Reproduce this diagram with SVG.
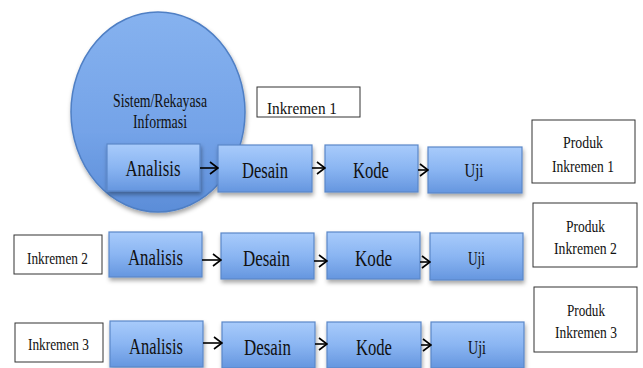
<svg xmlns="http://www.w3.org/2000/svg" width="643" height="368" viewBox="0 0 643 368">
  <defs>
    <linearGradient id="boxFill" x1="0" y1="0" x2="0" y2="1">
      <stop offset="0" stop-color="#a8cbfb"/>
      <stop offset="0.5" stop-color="#8ab5f2"/>
      <stop offset="1" stop-color="#6596df"/>
    </linearGradient>
    <linearGradient id="circleFill" x1="0" y1="0" x2="0" y2="1">
      <stop offset="0" stop-color="#86b2ef"/>
      <stop offset="0.6" stop-color="#74a3e8"/>
      <stop offset="1" stop-color="#5b8dd8"/>
    </linearGradient>
    <filter id="shadow" x="-20%" y="-20%" width="150%" height="160%">
      <feDropShadow dx="1" dy="3" stdDeviation="2" flood-color="#000" flood-opacity="0.35"/>
    </filter>
    <marker id="head" viewBox="0 0 10 14" refX="9" refY="7" markerWidth="10" markerHeight="14" markerUnits="userSpaceOnUse" orient="auto">
      <path d="M1,1 L9,7 L1,13" fill="none" stroke="#000" stroke-width="1.6"/>
    </marker>
  </defs>
  <style>
    .step { fill: url(#boxFill); stroke: #5a87c8; stroke-width: 1.2; filter: url(#shadow); }
    .plain { fill: #fff; stroke: #333; stroke-width: 1; }
    text { font-family: "Liberation Serif", "DejaVu Serif", "Times New Roman", serif; fill: #111; text-anchor: middle; }
    .big { font-size: 24px; }
    .mid { font-size: 19px; }
    .sm { font-size: 17px; }
    .link { stroke: #000; stroke-width: 1.6; fill: none; marker-end: url(#head); }
  </style>

  <rect width="643" height="368" fill="#fff"/>

  <!-- system / information engineering circle -->
  <g id="sistem">
    <ellipse cx="158" cy="112" rx="87" ry="100" fill="url(#circleFill)" stroke="#4f7fc4" stroke-width="1.5" filter="url(#shadow)"/>
    <text class="mid" font-family="Liberation Serif, serif" x="160" y="107" textLength="94" lengthAdjust="spacingAndGlyphs">Sistem/Rekayasa</text>
    <text class="mid" font-family="Liberation Serif, serif" x="160" y="128" textLength="54" lengthAdjust="spacingAndGlyphs">Informasi</text>
  </g>

  <!-- increment labels -->
  <g id="inkremen1">
    <rect class="plain" x="257" y="87" width="103" height="30"/>
    <text class="sm" x="302" y="114" textLength="70" lengthAdjust="spacingAndGlyphs">Inkremen 1</text>
  </g>
  <g id="inkremen2">
    <rect class="plain" x="14" y="235" width="88" height="39"/>
    <text class="sm" x="57.5" y="264" textLength="61" lengthAdjust="spacingAndGlyphs">Inkremen 2</text>
  </g>
  <g id="inkremen3">
    <rect class="plain" x="15" y="323" width="88" height="39"/>
    <text class="sm" x="58.5" y="350" textLength="61" lengthAdjust="spacingAndGlyphs">Inkremen 3</text>
  </g>

  <!-- increment 1 -->
  <g id="analisis1">
    <rect class="step" x="107" y="144" width="93" height="47"/>
    <text class="big" x="153" y="176" textLength="55" lengthAdjust="spacingAndGlyphs">Analisis</text>
  </g>
  <g id="desain1">
    <rect class="step" x="218" y="145" width="94" height="47"/>
    <text class="big" x="265" y="178" textLength="46" lengthAdjust="spacingAndGlyphs">Desain</text>
  </g>
  <g id="kode1">
    <rect class="step" x="325" y="145" width="93" height="47"/>
    <text class="big" x="371" y="178" textLength="36" lengthAdjust="spacingAndGlyphs">Kode</text>
  </g>
  <g id="uji1">
    <rect class="step" x="428" y="147" width="94" height="46"/>
    <text class="mid" x="474" y="177" textLength="19" lengthAdjust="spacingAndGlyphs">Uji</text>
  </g>
  <g id="produk1">
    <rect class="plain" x="532" y="120" width="103" height="63"/>
    <text class="sm" x="583" y="148" textLength="40" lengthAdjust="spacingAndGlyphs">Produk</text>
    <text class="sm" x="583" y="172" textLength="62" lengthAdjust="spacingAndGlyphs">Inkremen 1</text>
  </g>

  <!-- increment 2 -->
  <g id="analisis2">
    <rect class="step" x="109" y="232" width="93" height="45"/>
    <text class="big" x="155.5" y="265" textLength="55" lengthAdjust="spacingAndGlyphs">Analisis</text>
  </g>
  <g id="desain2">
    <rect class="step" x="221" y="233" width="93" height="46"/>
    <text class="big" x="266.5" y="266" textLength="47" lengthAdjust="spacingAndGlyphs">Desain</text>
  </g>
  <g id="kode2">
    <rect class="step" x="327" y="232" width="93" height="47"/>
    <text class="big" x="373.5" y="266" textLength="37" lengthAdjust="spacingAndGlyphs">Kode</text>
  </g>
  <g id="uji2">
    <rect class="step" x="430" y="233" width="93" height="47"/>
    <text class="mid" x="476.5" y="265" textLength="17" lengthAdjust="spacingAndGlyphs">Uji</text>
  </g>
  <g id="produk2">
    <rect class="plain" x="533" y="203" width="104" height="64"/>
    <text class="sm" x="585.5" y="232" textLength="39" lengthAdjust="spacingAndGlyphs">Produk</text>
    <text class="sm" x="585.5" y="254" textLength="63" lengthAdjust="spacingAndGlyphs">Inkremen 2</text>
  </g>

  <!-- increment 3 -->
  <g id="analisis3">
    <rect class="step" x="110" y="321" width="93" height="46"/>
    <text class="big" x="156" y="354" textLength="54" lengthAdjust="spacingAndGlyphs">Analisis</text>
  </g>
  <g id="desain3">
    <rect class="step" x="222" y="322" width="93" height="46"/>
    <text class="big" x="267.5" y="355" textLength="47" lengthAdjust="spacingAndGlyphs">Desain</text>
  </g>
  <g id="kode3">
    <rect class="step" x="327" y="322" width="94" height="46"/>
    <text class="big" x="374" y="355" textLength="36" lengthAdjust="spacingAndGlyphs">Kode</text>
  </g>
  <g id="uji3">
    <rect class="step" x="431" y="322" width="93" height="46"/>
    <text class="mid" x="477" y="354" textLength="18" lengthAdjust="spacingAndGlyphs">Uji</text>
  </g>
  <g id="produk3">
    <rect class="plain" x="534" y="287" width="103" height="65"/>
    <text class="sm" x="586" y="316" textLength="38" lengthAdjust="spacingAndGlyphs">Produk</text>
    <text class="sm" x="586" y="338" textLength="62" lengthAdjust="spacingAndGlyphs">Inkremen 3</text>
  </g>

  <!-- connectors between phases -->
  <g id="connectors">
    <line class="link" x1="200" y1="168" x2="218" y2="168"/>
    <line class="link" x1="312" y1="168" x2="325" y2="168"/>
    <line class="link" x1="418" y1="170" x2="428" y2="170"/>
    <line class="link" x1="202" y1="260" x2="221" y2="260"/>
    <line class="link" x1="314" y1="261" x2="327" y2="261"/>
    <line class="link" x1="420" y1="262" x2="430" y2="262"/>
    <line class="link" x1="203" y1="343" x2="222" y2="343"/>
    <line class="link" x1="315" y1="344" x2="327" y2="344"/>
    <line class="link" x1="421" y1="345" x2="431" y2="345"/>
  </g>
</svg>
